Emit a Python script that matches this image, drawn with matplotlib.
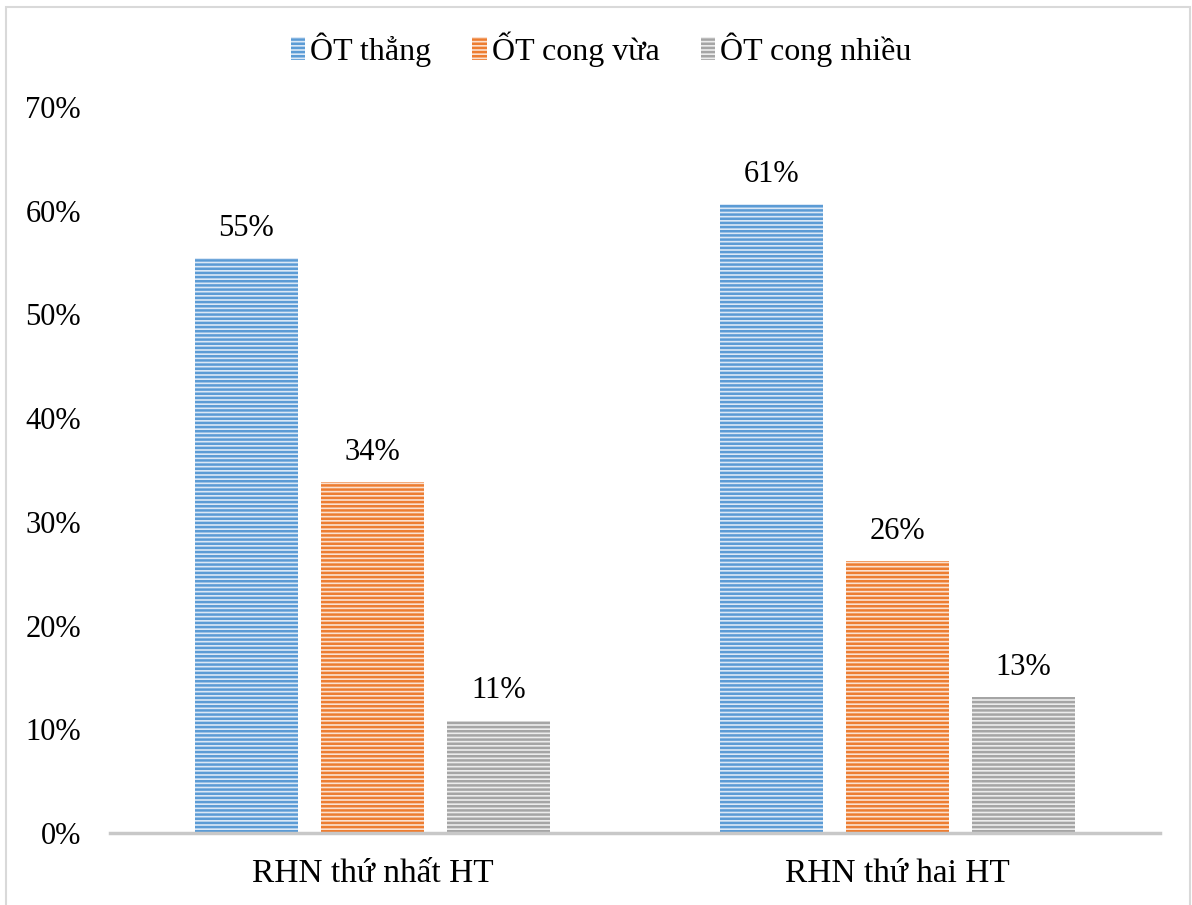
import matplotlib
matplotlib.use("Agg")
import matplotlib.pyplot as plt
from matplotlib.patches import Rectangle
import numpy as np

plt.rcParams['font.family'] = ['Liberation Serif', 'DejaVu Serif']
plt.rcParams['hatch.linewidth'] = 1.8

categories = ["RHN thứ nhất HT", "RHN thứ hai HT"]
series_names = ["ÔT thẳng", "ỐT cong vừa", "ÔT cong nhiều"]
straight = [55.4, 60.6]
moderate = [33.8, 26.2]
sharp = [10.8, 13.1]
series_values = [straight, moderate, sharp]

stripe_colors = ["#5b9bd5", "#ed7d31", "#a5a5a5"]
face_colors = ["#dbe8f6", "#fbe1d0", "#ececec"]
yticks = [0, 10, 20, 30, 40, 50, 60, 70]

W, H = 1192, 905
fig = plt.figure(figsize=(W / 100, H / 100), dpi=100)
ax = fig.add_axes([110 / W, 1 - 833 / H, 1050 / W, (833 - 107) / H])

x = np.arange(len(categories))
width = 0.196
step = 0.24
handles = []
for i, (name, vals) in enumerate(zip(series_names, series_values)):
    pos = x + (i - 1) * step
    bars = ax.bar(pos, vals, width, facecolor=face_colors[i],
                  edgecolor=stripe_colors[i], hatch='----', linewidth=0,
                  label=name, zorder=2)
    handles.append(bars)
    for xp, v in zip(pos, vals):
        ax.text(xp, v + 1.5, f"{v:.0f}%", ha='center', va='bottom', fontsize=22)

ax.set_xlim(-0.5, 1.5)
ax.set_ylim(0, 70)
ax.set_yticks(yticks)
ax.set_yticklabels([f"{t}%" for t in yticks], fontsize=22)
ax.set_xticks(x)
ax.set_xticklabels(categories, fontsize=24)
ax.tick_params(axis='y', length=0, pad=21)
ax.tick_params(axis='x', length=0, pad=18)
for s in ['top', 'right', 'left']:
    ax.spines[s].set_visible(False)
ax.spines['bottom'].set_color('#c8c8c8')
ax.spines['bottom'].set_linewidth(2.5)

leg = fig.legend(handles=handles, labels=series_names, loc='center',
                 bbox_to_anchor=(601 / W, 1 - 49 / H), ncol=3, frameon=False,
                 fontsize=23, handlelength=0.45, handleheight=0.75,
                 handletextpad=0.15, columnspacing=1.3)

# chart area border
fig.patches.append(Rectangle((6 / W, -0.05), (1190 - 6) / W, 1.05 - 7 / H,
                             transform=fig.transFigure, fill=False,
                             edgecolor='#d9d9d9', linewidth=1.5))

fig.savefig("out.png", dpi=100, facecolor='white')
